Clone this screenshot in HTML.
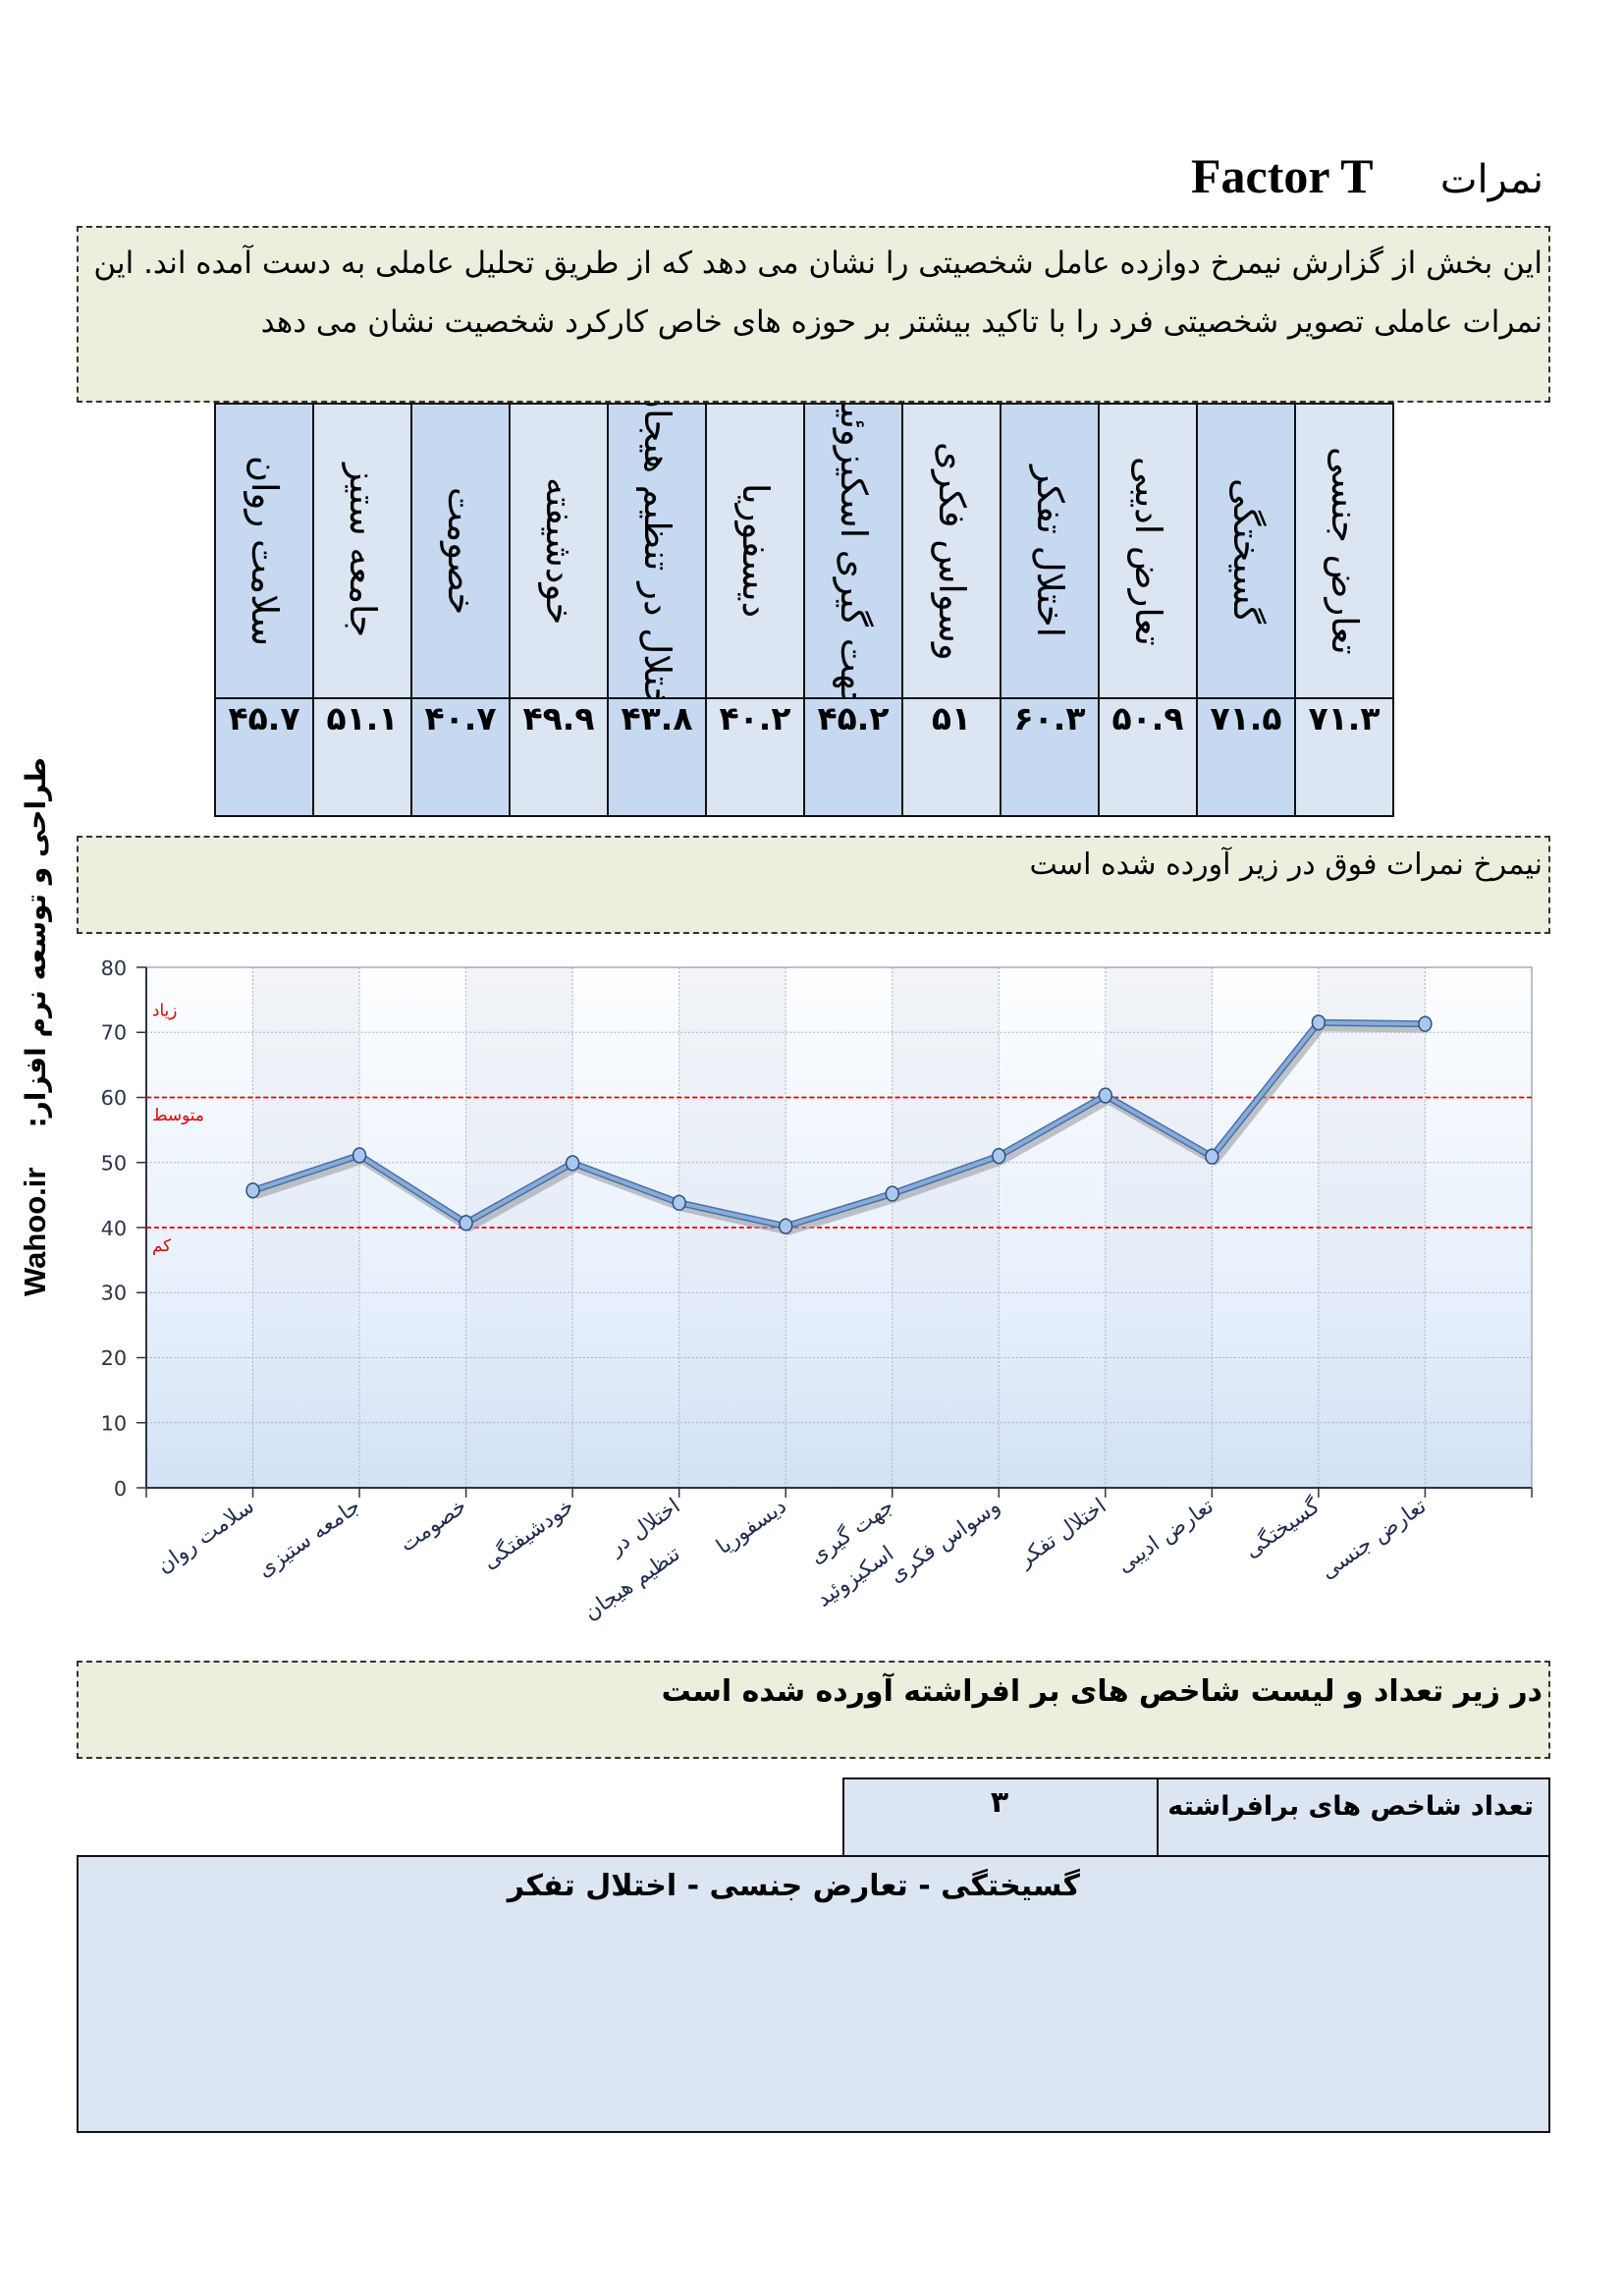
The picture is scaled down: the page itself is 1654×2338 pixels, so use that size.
<!DOCTYPE html>
<html><head><meta charset="utf-8">
<style>
body{margin:0;width:1654px;height:2338px;background:#fff;position:relative;overflow:hidden;font-family:"DejaVu Sans","Liberation Sans",sans-serif;}
.abs{position:absolute}
.box{position:absolute;left:78px;width:1501px;background:#ebefdd;border:2px dashed #333;box-sizing:border-box;}
.fa{direction:rtl;text-align:right}
table.t{position:absolute;left:218px;top:410px;border-collapse:collapse;}
table.t td{border:2px solid #111;width:98px;padding:0;text-align:center;}
.h td{height:298px;}
.h div{writing-mode:vertical-rl;height:298px;width:98px;overflow:hidden;display:flex;align-items:center;justify-content:center;font-size:37px;line-height:98px;white-space:nowrap;}
.v td{height:118px;vertical-align:top;font-size:33px;font-weight:bold;padding-top:12px;}
.d{background:#c6d9f0}.l{background:#dce6f2}
</style></head><body>
<div class="abs" style="left:1213px;top:150px;font:bold 50px 'Liberation Serif',serif;">Factor T</div>
<div class="abs fa" style="left:1460px;top:160px;width:112px;font-size:40px;">نمرات</div>

<div class="box fa" style="top:230px;height:180px;padding:6px 6px 0 0;font-size:31px;line-height:60px;">این بخش از گزارش نیمرخ دوازده عامل شخصیتی را نشان می دهد که از طریق تحلیل عاملی به دست آمده اند. این نمرات عاملی تصویر شخصیتی فرد را با تاکید بیشتر بر حوزه های خاص کارکرد شخصیت نشان می دهد</div>

<table class="t">
<tr class="h">
<td class="d"><div>سلامت روان</div></td><td class="l"><div>جامعه ستیز</div></td><td class="d"><div>خصومت</div></td><td class="l"><div>خودشیفته</div></td><td class="d"><div>اختلال در تنظیم هیجان</div></td><td class="l"><div>دیسفوریا</div></td><td class="d"><div>جهت گیری اسکیزوئید</div></td><td class="l"><div>وسواس فکری</div></td><td class="d"><div>اختلال تفکر</div></td><td class="l"><div>تعارض ادیبی</div></td><td class="d"><div>گسیختگی</div></td><td class="l"><div>تعارض جنسی</div></td>
</tr>
<tr class="v">
<td class="d">۴۵.۷</td><td class="l">۵۱.۱</td><td class="d">۴۰.۷</td><td class="l">۴۹.۹</td><td class="d">۴۳.۸</td><td class="l">۴۰.۲</td><td class="d">۴۵.۲</td><td class="l">۵۱</td><td class="d">۶۰.۳</td><td class="l">۵۰.۹</td><td class="d">۷۱.۵</td><td class="l">۷۱.۳</td>
</tr></table>

<div class="box fa" style="top:851px;height:100px;padding:10px 6px 0 0;font-size:30px;">نیمرخ نمرات فوق در زیر آورده شده است</div>

<div class="abs" style="left:37px;top:1050px;width:0;height:0;">
<div style="position:absolute;left:-270px;top:-20px;width:540px;height:40px;transform:rotate(-90deg);white-space:nowrap;font-weight:bold;font-size:28px;line-height:40px;direction:ltr;"><span style="font:bold 31px 'Liberation Sans',sans-serif;">Wahoo.ir</span><span style="display:inline-block;width:40px"></span><span style="direction:rtl;unicode-bidi:embed;">طراحی و توسعه نرم افزار:</span></div>
</div>

<svg class="abs" style="left:0;top:0" width="1654" height="1700" viewBox="0 0 1654 1700">
<defs>
<linearGradient id="bg" x1="0" y1="0" x2="0" y2="1"><stop offset="0" stop-color="#fdfeff"/><stop offset="0.7" stop-color="#e4eefb"/><stop offset="1" stop-color="#d3e1f5"/></linearGradient>
<linearGradient id="bd" x1="0" y1="0" x2="0" y2="1"><stop offset="0" stop-color="#203050" stop-opacity="0.05"/><stop offset="1" stop-color="#203050" stop-opacity="0.0"/></linearGradient>
</defs>
<g transform="translate(149,985) scale(0.993,0.9925)">
<rect x="0" y="0" width="1421" height="534" fill="url(#bg)"/>
<g fill="url(#bd)">
<rect x="109.3" y="0" width="109.3" height="534"/><rect x="327.9" y="0" width="109.3" height="534"/><rect x="546.5" y="0" width="109.3" height="534"/><rect x="765.1" y="0" width="109.3" height="534"/><rect x="983.7" y="0" width="109.3" height="534"/><rect x="1202.3" y="0" width="109.3" height="534"/>
</g>
<g stroke="#a8b0bc" stroke-width="1" stroke-dasharray="2,2">
<line x1="0" x2="1421" y1="66.75" y2="66.75"/><line x1="0" x2="1421" y1="133.5" y2="133.5"/><line x1="0" x2="1421" y1="200.25" y2="200.25"/><line x1="0" x2="1421" y1="333.75" y2="333.75"/><line x1="0" x2="1421" y1="400.5" y2="400.5"/><line x1="0" x2="1421" y1="467.25" y2="467.25"/>
<line x1="109.3" x2="109.3" y1="0" y2="534"/><line x1="218.6" x2="218.6" y1="0" y2="534"/><line x1="327.9" x2="327.9" y1="0" y2="534"/><line x1="437.2" x2="437.2" y1="0" y2="534"/><line x1="546.5" x2="546.5" y1="0" y2="534"/><line x1="655.8" x2="655.8" y1="0" y2="534"/><line x1="765.1" x2="765.1" y1="0" y2="534"/><line x1="874.4" x2="874.4" y1="0" y2="534"/><line x1="983.7" x2="983.7" y1="0" y2="534"/><line x1="1093" x2="1093" y1="0" y2="534"/><line x1="1202.3" x2="1202.3" y1="0" y2="534"/><line x1="1311.6" x2="1311.6" y1="0" y2="534"/>
</g>
<rect x="0" y="0" width="1421" height="534" fill="none" stroke="#7a8698" stroke-width="1"/>
<line x1="0" x2="0" y1="0" y2="534" stroke="#2a3345" stroke-width="2"/>
<line x1="0" x2="1421" y1="534" y2="534" stroke="#2a3345" stroke-width="2"/>
<g stroke="#2a3345" stroke-width="1.5">
<line x1="-10" x2="0" y1="0" y2="0"/><line x1="-10" x2="0" y1="66.75" y2="66.75"/><line x1="-10" x2="0" y1="133.5" y2="133.5"/><line x1="-10" x2="0" y1="200.25" y2="200.25"/><line x1="-10" x2="0" y1="267" y2="267"/><line x1="-10" x2="0" y1="333.75" y2="333.75"/><line x1="-10" x2="0" y1="400.5" y2="400.5"/><line x1="-10" x2="0" y1="467.25" y2="467.25"/><line x1="-10" x2="0" y1="534" y2="534"/>
<line x1="0" x2="0" y1="534" y2="544"/><line x1="109.3" x2="109.3" y1="534" y2="544"/><line x1="218.6" x2="218.6" y1="534" y2="544"/><line x1="327.9" x2="327.9" y1="534" y2="544"/><line x1="437.2" x2="437.2" y1="534" y2="544"/><line x1="546.5" x2="546.5" y1="534" y2="544"/><line x1="655.8" x2="655.8" y1="534" y2="544"/><line x1="765.1" x2="765.1" y1="534" y2="544"/><line x1="874.4" x2="874.4" y1="534" y2="544"/><line x1="983.7" x2="983.7" y1="534" y2="544"/><line x1="1093" x2="1093" y1="534" y2="544"/><line x1="1202.3" x2="1202.3" y1="534" y2="544"/><line x1="1311.6" x2="1311.6" y1="534" y2="544"/><line x1="1421" x2="1421" y1="534" y2="544"/>
</g>
<g font-family="DejaVu Sans, sans-serif" font-size="21" fill="#2a3345" text-anchor="end">
<text x="-20" y="8">80</text><text x="-20" y="74">70</text><text x="-20" y="141">60</text><text x="-20" y="208">50</text><text x="-20" y="275">40</text><text x="-20" y="341">30</text><text x="-20" y="408">20</text><text x="-20" y="475">10</text><text x="-20" y="542">0</text>
</g>
<line x1="0" x2="1421" y1="133.5" y2="133.5" stroke="#e00000" stroke-width="1.8" stroke-dasharray="5,3"/>
<line x1="0" x2="1421" y1="267" y2="267" stroke="#e00000" stroke-width="1.8" stroke-dasharray="5,3"/>
<g font-family="DejaVu Sans, sans-serif" font-size="17" fill="#e00000">
<text x="6" y="50">زیاد</text><text x="6" y="157">متوسط</text><text x="6" y="291">کم</text>
</g>
<g transform="translate(0,-992)">
<polyline fill="none" stroke="#9a9ea6" stroke-opacity="0.6" stroke-width="8" stroke-linejoin="round" transform="translate(3,5)" points="109.3,1221 218.6,1184.9 327.9,1254.3 437.2,1192.9 546.5,1233.6 655.8,1257.7 765.1,1224.3 874.4,1185.6 983.7,1123.5 1093,1186.2 1202.3,1048.7 1311.6,1050.1"/>
<polyline fill="none" stroke="#4d6f9f" stroke-width="7" stroke-linejoin="round" points="109.3,1221 218.6,1184.9 327.9,1254.3 437.2,1192.9 546.5,1233.6 655.8,1257.7 765.1,1224.3 874.4,1185.6 983.7,1123.5 1093,1186.2 1202.3,1048.7 1311.6,1050.1"/>
<polyline fill="none" stroke="#86acdc" stroke-width="4" stroke-linejoin="round" points="109.3,1221 218.6,1184.9 327.9,1254.3 437.2,1192.9 546.5,1233.6 655.8,1257.7 765.1,1224.3 874.4,1185.6 983.7,1123.5 1093,1186.2 1202.3,1048.7 1311.6,1050.1"/>
<g fill="#a9c8f0" stroke="#2f4d7a" stroke-width="1.5">
<ellipse cx="109.3" cy="1221" rx="6.5" ry="7.5"/><ellipse cx="218.6" cy="1184.9" rx="6.5" ry="7.5"/><ellipse cx="327.9" cy="1254.3" rx="6.5" ry="7.5"/><ellipse cx="437.2" cy="1192.9" rx="6.5" ry="7.5"/><ellipse cx="546.5" cy="1233.6" rx="6.5" ry="7.5"/><ellipse cx="655.8" cy="1257.7" rx="6.5" ry="7.5"/><ellipse cx="765.1" cy="1224.3" rx="6.5" ry="7.5"/><ellipse cx="874.4" cy="1185.6" rx="6.5" ry="7.5"/><ellipse cx="983.7" cy="1123.5" rx="6.5" ry="7.5"/><ellipse cx="1093" cy="1186.2" rx="6.5" ry="7.5"/><ellipse cx="1202.3" cy="1048.7" rx="6.5" ry="7.5"/><ellipse cx="1311.6" cy="1050.1" rx="6.5" ry="7.5"/>
</g>
</g>
<g font-family="DejaVu Sans, sans-serif" font-size="22" fill="#1f2d4d" text-anchor="end">
<text transform="translate(112,556) rotate(-35)">سلامت روان</text>
<text transform="translate(221,556) rotate(-35)">جامعه ستیزی</text>
<text transform="translate(330,556) rotate(-35)">خصومت</text>
<text transform="translate(440,556) rotate(-35)">خودشیفتگی</text>
<text transform="translate(549,556) rotate(-35)"><tspan x="0" y="0">اختلال در</tspan><tspan x="-28" y="40">تنظیم هیجان</tspan></text>
<text transform="translate(658,556) rotate(-35)">دیسفوریا</text>
<text transform="translate(768,556) rotate(-35)"><tspan x="0" y="0">جهت گیری</tspan><tspan x="-28" y="40">اسکیزوئید</tspan></text>
<text transform="translate(877,556) rotate(-35)">وسواس فکری</text>
<text transform="translate(986,556) rotate(-35)">اختلال تفکر</text>
<text transform="translate(1096,556) rotate(-35)">تعارض ادیبی</text>
<text transform="translate(1205,556) rotate(-35)">گسیختگی</text>
<text transform="translate(1314,556) rotate(-35)">تعارض جنسی</text>
</g>
</g>
</svg>

<div class="box fa" style="top:1691px;height:100px;padding:12px 6px 0 0;font-size:30px;font-weight:bold;">در زیر تعداد و لیست شاخص های بر افراشته آورده شده است</div>

<div class="abs" style="left:858px;top:1810px;width:721px;height:81px;background:#dce6f2;border:2px solid #111;box-sizing:border-box;"></div>
<div class="abs" style="left:1178px;top:1810px;width:2px;height:81px;background:#111;"></div>
<div class="abs fa" style="left:1182px;top:1824px;width:380px;font-size:27px;font-weight:bold;white-space:nowrap;">تعداد شاخص های برافراشته</div>
<div class="abs" style="left:858px;top:1818px;width:320px;text-align:center;font-size:30px;font-weight:bold;">۳</div>

<div class="abs" style="left:78px;top:1889px;width:1501px;height:283px;background:#dce6f2;border:2px solid #111;box-sizing:border-box;"></div>
<div class="abs fa" style="left:78px;top:1903px;width:1022px;font-size:30px;font-weight:bold;">گسیختگی - تعارض جنسی - اختلال تفکر</div>
</body></html>
